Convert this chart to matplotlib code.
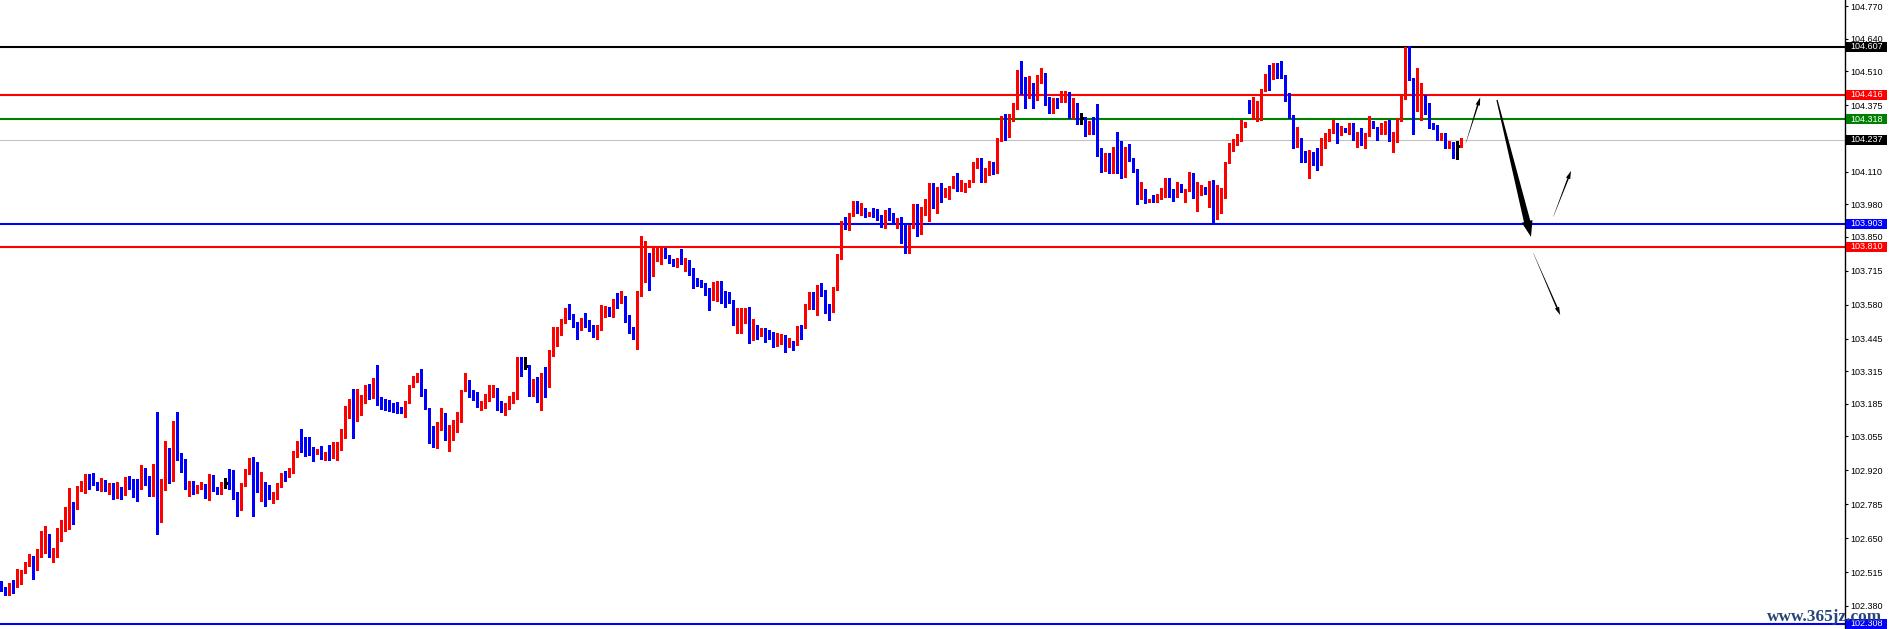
import matplotlib
matplotlib.use('Agg')
import matplotlib.pyplot as plt
import numpy as np
from matplotlib.patches import Polygon, Rectangle
from matplotlib.transforms import IdentityTransform

# candle data (bar index 0..365)
opens = [
    102.447, 102.443, 102.425, 102.475, 102.470, 102.477, 102.516, 102.543, 102.579, 102.526,
    102.596, 102.624, 102.663, 102.584, 102.592, 102.682, 102.696, 102.742, 102.789, 102.767,
    102.839, 102.851, 102.900, 102.888, 102.874, 102.846, 102.866, 102.850, 102.866, 102.834,
    102.847, 102.830, 102.868, 102.868, 102.860, 102.848, 102.896, 102.874, 102.819, 102.916,
    102.773, 102.844, 102.957, 102.915, 103.087, 102.980, 102.961, 102.847, 102.874, 102.834,
    102.859, 102.864, 102.813, 102.890, 102.851, 102.838, 102.869, 102.868, 102.854, 102.810,
    102.774, 102.860, 102.907, 102.929, 102.902, 102.863, 102.871, 102.860, 102.811, 102.822,
    102.858, 102.908, 102.895, 102.912, 102.996, 103.025, 103.017, 103.013, 103.009, 102.990,
    103.002, 102.971, 102.994, 102.990, 103.007, 103.011, 103.065, 103.150, 103.201, 103.118,
    103.144, 103.203, 103.241, 103.214, 103.267, 103.207, 103.174, 103.174, 103.169, 103.166,
    103.158, 103.150, 103.197, 103.254, 103.278, 103.287, 103.245, 103.169, 103.077, 103.020,
    103.110, 103.148, 103.065, 103.068, 103.101, 103.142, 103.237, 103.273, 103.234, 103.229,
    103.166, 103.170, 103.201, 103.237, 103.245, 103.166, 103.158, 103.181, 103.200, 103.214,
    103.352, 103.336, 103.337, 103.236, 103.276, 103.204, 103.296, 103.254, 103.380, 103.443,
    103.463, 103.512, 103.566, 103.539, 103.510, 103.479, 103.523, 103.516, 103.495, 103.463,
    103.479, 103.559, 103.568, 103.546, 103.603, 103.591, 103.612, 103.539, 103.483, 103.466,
    103.625, 103.678, 103.748, 103.698, 103.781, 103.778, 103.802, 103.774, 103.755, 103.741,
    103.767, 103.748, 103.751, 103.708, 103.672, 103.665, 103.655, 103.635, 103.599, 103.632,
    103.648, 103.619, 103.608, 103.599, 103.512, 103.519, 103.523, 103.563, 103.439, 103.495,
    103.463, 103.482, 103.475, 103.453, 103.433, 103.439, 103.459, 103.429, 103.435, 103.420,
    103.493, 103.486, 103.579, 103.619, 103.579, 103.655, 103.635, 103.579, 103.556, 103.643,
    103.765, 103.914, 103.908, 103.937, 103.987, 103.955, 103.964, 103.937, 103.947, 103.944,
    103.937, 103.908, 103.951, 103.927, 103.908, 103.922, 103.869, 103.792, 103.891, 103.973,
    103.881, 103.940, 103.997, 104.017, 103.984, 104.048, 104.015, 104.017, 104.050, 104.084,
    104.037, 104.050, 104.050, 104.074, 104.126, 104.150, 104.074, 104.100, 104.133, 104.106,
    104.234, 104.319, 104.260, 104.332, 104.378, 104.515, 104.456, 104.445, 104.460, 104.405,
    104.465, 104.499, 104.405, 104.349, 104.402, 104.389, 104.412, 104.416, 104.332, 104.385,
    104.325, 104.327, 104.260, 104.309, 104.300, 104.203, 104.146, 104.177, 104.146, 104.187,
    104.183, 104.179, 104.200, 104.161, 104.114, 104.026, 104.037, 103.990, 104.001, 103.993,
    104.010, 104.024, 104.064, 104.037, 104.014, 104.057, 104.033, 104.037, 104.093, 104.040,
    104.044, 104.050, 104.021, 104.033, 103.924, 103.980, 104.004, 104.146, 104.200, 104.220,
    104.234, 104.289, 104.392, 104.360, 104.360, 104.360, 104.436, 104.491, 104.479, 104.539,
    104.505, 104.486, 104.416, 104.332, 104.212, 104.243, 104.173, 104.166, 104.177, 104.161,
    104.154, 104.243, 104.263, 104.267, 104.296, 104.257, 104.283, 104.272, 104.299, 104.234,
    104.240, 104.230, 104.260, 104.307, 104.287, 104.260, 104.263, 104.305, 104.250, 104.254,
    104.316, 104.402, 104.566, 104.482, 104.356, 104.385, 104.405, 104.345, 104.293, 104.287,
    104.236, 104.260, 104.214, 104.227, 104.212, 104.210,
]
highs = [
    102.479, 102.454, 102.473, 102.482, 102.527, 102.523, 102.556, 102.587, 102.579, 102.605,
    102.678, 102.698, 102.666, 102.609, 102.690, 102.722, 102.774, 102.851, 102.795, 102.858,
    102.878, 102.907, 102.907, 102.909, 102.875, 102.888, 102.882, 102.868, 102.868, 102.874,
    102.852, 102.892, 102.898, 102.887, 102.887, 102.941, 102.929, 102.898, 102.945, 103.151,
    102.887, 103.037, 103.008, 103.117, 103.151, 102.988, 102.967, 102.878, 102.876, 102.860,
    102.874, 102.866, 102.904, 102.900, 102.855, 102.874, 102.890, 102.925, 102.921, 102.835,
    102.868, 102.927, 102.969, 102.973, 102.953, 102.913, 102.875, 102.862, 102.835, 102.868,
    102.911, 102.919, 102.928, 102.998, 103.037, 103.085, 103.053, 103.054, 103.013, 103.005,
    103.019, 102.992, 103.020, 103.032, 103.035, 103.084, 103.177, 103.206, 103.245, 103.245,
    103.222, 103.259, 103.263, 103.288, 103.340, 103.211, 103.205, 103.201, 103.187, 103.193,
    103.172, 103.197, 103.261, 103.296, 103.307, 103.324, 103.245, 103.169, 103.097, 103.113,
    103.169, 103.150, 103.099, 103.121, 103.154, 103.241, 103.307, 103.280, 103.241, 103.233,
    103.197, 103.225, 103.261, 103.261, 103.249, 103.197, 103.190, 103.217, 103.232, 103.370,
    103.370, 103.370, 103.340, 103.284, 103.293, 103.309, 103.331, 103.400, 103.490, 103.490,
    103.522, 103.566, 103.583, 103.542, 103.512, 103.526, 103.546, 103.519, 103.498, 103.498,
    103.579, 103.575, 103.572, 103.603, 103.625, 103.635, 103.615, 103.540, 103.493, 103.635,
    103.854, 103.834, 103.787, 103.807, 103.811, 103.807, 103.807, 103.778, 103.761, 103.767,
    103.802, 103.767, 103.758, 103.725, 103.688, 103.678, 103.665, 103.645, 103.669, 103.676,
    103.674, 103.635, 103.632, 103.599, 103.568, 103.566, 103.568, 103.570, 103.523, 103.499,
    103.489, 103.486, 103.479, 103.473, 103.466, 103.463, 103.459, 103.446, 103.437, 103.497,
    103.499, 103.583, 103.632, 103.629, 103.659, 103.665, 103.639, 103.582, 103.652, 103.782,
    103.914, 103.931, 103.947, 103.993, 103.993, 103.984, 103.964, 103.951, 103.964, 103.960,
    103.937, 103.957, 103.964, 103.947, 103.924, 103.928, 103.898, 103.898, 103.980, 103.981,
    103.971, 104.001, 104.066, 104.066, 104.050, 104.064, 104.044, 104.053, 104.093, 104.106,
    104.075, 104.066, 104.077, 104.150, 104.166, 104.166, 104.123, 104.153, 104.147, 104.246,
    104.332, 104.339, 104.339, 104.385, 104.515, 104.551, 104.486, 104.491, 104.465, 104.495,
    104.522, 104.502, 104.409, 104.405, 104.405, 104.432, 104.432, 104.426, 104.402, 104.385,
    104.343, 104.329, 104.312, 104.329, 104.380, 104.203, 104.183, 104.183, 104.210, 104.269,
    104.234, 104.207, 104.219, 104.166, 104.119, 104.068, 104.040, 104.001, 104.017, 104.020,
    104.044, 104.086, 104.083, 104.040, 104.068, 104.061, 104.040, 104.110, 104.106, 104.070,
    104.057, 104.050, 104.074, 104.077, 104.057, 104.044, 104.150, 104.223, 104.239, 104.260,
    104.316, 104.309, 104.396, 104.409, 104.392, 104.438, 104.499, 104.535, 104.542, 104.542,
    104.551, 104.495, 104.425, 104.336, 104.287, 104.243, 104.193, 104.196, 104.187, 104.203,
    104.246, 104.266, 104.280, 104.316, 104.303, 104.292, 104.285, 104.303, 104.303, 104.267,
    104.283, 104.266, 104.332, 104.312, 104.290, 104.303, 104.312, 104.316, 104.270, 104.323,
    104.412, 104.606, 104.612, 104.482, 104.525, 104.462, 104.416, 104.382, 104.303, 104.296,
    104.266, 104.263, 104.232, 104.230, 104.232, 104.243,
]
lows = [
    102.441, 102.425, 102.425, 102.430, 102.457, 102.467, 102.512, 102.540, 102.487, 102.523,
    102.574, 102.589, 102.576, 102.556, 102.576, 102.640, 102.680, 102.688, 102.706, 102.765,
    102.838, 102.831, 102.847, 102.862, 102.842, 102.838, 102.839, 102.826, 102.807, 102.810,
    102.807, 102.823, 102.847, 102.815, 102.799, 102.846, 102.863, 102.818, 102.818, 102.668,
    102.716, 102.842, 102.871, 102.879, 102.961, 102.913, 102.847, 102.819, 102.824, 102.828,
    102.847, 102.811, 102.802, 102.836, 102.826, 102.827, 102.851, 102.846, 102.805, 102.740,
    102.762, 102.858, 102.904, 102.740, 102.835, 102.799, 102.779, 102.805, 102.791, 102.806,
    102.855, 102.879, 102.892, 102.910, 102.975, 102.994, 102.977, 102.980, 102.959, 102.987,
    102.966, 102.962, 102.962, 102.968, 102.962, 103.002, 103.048, 103.128, 103.047, 103.118,
    103.141, 103.190, 103.206, 103.210, 103.181, 103.164, 103.161, 103.158, 103.154, 103.150,
    103.148, 103.133, 103.187, 103.254, 103.274, 103.217, 103.166, 103.031, 103.015, 103.011,
    103.081, 103.041, 102.999, 103.041, 103.073, 103.112, 103.237, 103.214, 103.201, 103.173,
    103.161, 103.170, 103.197, 103.214, 103.161, 103.153, 103.141, 103.165, 103.190, 103.206,
    103.297, 103.323, 103.218, 103.218, 103.194, 103.161, 103.214, 103.254, 103.376, 103.416,
    103.459, 103.506, 103.522, 103.493, 103.443, 103.479, 103.493, 103.477, 103.453, 103.443,
    103.479, 103.532, 103.535, 103.531, 103.568, 103.586, 103.512, 103.466, 103.443, 103.404,
    103.615, 103.670, 103.639, 103.694, 103.754, 103.743, 103.767, 103.745, 103.734, 103.732,
    103.741, 103.716, 103.698, 103.648, 103.656, 103.649, 103.619, 103.559, 103.599, 103.596,
    103.586, 103.570, 103.588, 103.499, 103.466, 103.469, 103.506, 103.426, 103.439, 103.443,
    103.457, 103.430, 103.443, 103.413, 103.416, 103.423, 103.393, 103.410, 103.400, 103.420,
    103.443, 103.486, 103.563, 103.563, 103.539, 103.615, 103.546, 103.519, 103.552, 103.639,
    103.761, 103.880, 103.878, 103.933, 103.947, 103.937, 103.931, 103.935, 103.931, 103.917,
    103.891, 103.887, 103.917, 103.900, 103.884, 103.825, 103.785, 103.785, 103.887, 103.854,
    103.862, 103.938, 103.915, 103.967, 103.947, 103.991, 104.011, 104.000, 104.046, 104.033,
    104.035, 104.031, 104.050, 104.070, 104.123, 104.068, 104.070, 104.097, 104.100, 104.106,
    104.234, 104.236, 104.250, 104.313, 104.360, 104.418, 104.365, 104.402, 104.365, 104.396,
    104.462, 104.376, 104.343, 104.345, 104.365, 104.389, 104.389, 104.325, 104.323, 104.300,
    104.300, 104.254, 104.260, 104.260, 104.174, 104.110, 104.114, 104.103, 104.103, 104.103,
    104.086, 104.087, 104.154, 104.107, 103.981, 104.000, 103.987, 103.990, 103.990, 103.988,
    104.001, 104.010, 104.010, 103.994, 104.010, 104.030, 103.990, 104.034, 104.004, 103.955,
    104.017, 104.021, 103.970, 103.911, 103.920, 103.944, 104.004, 104.146, 104.194, 104.216,
    104.234, 104.287, 104.345, 104.320, 104.312, 104.316, 104.433, 104.436, 104.479, 104.482,
    104.482, 104.393, 104.323, 104.206, 104.207, 104.150, 104.150, 104.086, 104.137, 104.117,
    104.137, 104.206, 104.232, 104.263, 104.226, 104.257, 104.267, 104.260, 104.236, 104.210,
    104.216, 104.206, 104.254, 104.286, 104.236, 104.260, 104.260, 104.232, 104.187, 104.230,
    104.312, 104.400, 104.475, 104.260, 104.352, 104.316, 104.340, 104.285, 104.280, 104.236,
    104.236, 104.203, 104.203, 104.163, 104.159, 104.210,
]
closes = [
    102.441, 102.425, 102.470, 102.470, 102.483, 102.515, 102.551, 102.579, 102.528, 102.603,
    102.627, 102.663, 102.583, 102.595, 102.686, 102.698, 102.746, 102.789, 102.766, 102.846,
    102.855, 102.906, 102.887, 102.875, 102.846, 102.868, 102.850, 102.866, 102.831, 102.848,
    102.831, 102.868, 102.866, 102.863, 102.847, 102.896, 102.871, 102.822, 102.916, 102.767,
    102.844, 102.957, 102.919, 103.087, 102.977, 102.959, 102.847, 102.878, 102.831, 102.860,
    102.867, 102.815, 102.890, 102.840, 102.834, 102.868, 102.869, 102.848, 102.806, 102.771,
    102.864, 102.908, 102.929, 102.899, 102.863, 102.870, 102.858, 102.810, 102.822, 102.862,
    102.908, 102.899, 102.912, 102.997, 103.025, 103.014, 103.009, 103.002, 102.992, 103.001,
    102.975, 102.988, 102.986, 103.008, 103.015, 103.068, 103.148, 103.201, 103.118, 103.144,
    103.205, 103.241, 103.214, 103.271, 103.206, 103.170, 103.170, 103.169, 103.165, 103.153,
    103.150, 103.197, 103.257, 103.278, 103.291, 103.241, 103.166, 103.075, 103.020, 103.113,
    103.148, 103.063, 103.073, 103.104, 103.145, 103.241, 103.273, 103.233, 103.225, 103.173,
    103.174, 103.201, 103.237, 103.245, 103.161, 103.161, 103.185, 103.201, 103.216, 103.356,
    103.333, 103.336, 103.236, 103.280, 103.204, 103.293, 103.260, 103.384, 103.446, 103.466,
    103.512, 103.563, 103.532, 103.495, 103.482, 103.519, 103.510, 103.490, 103.470, 103.483,
    103.562, 103.568, 103.546, 103.599, 103.586, 103.615, 103.536, 103.479, 103.463, 103.632,
    103.682, 103.748, 103.702, 103.785, 103.783, 103.802, 103.771, 103.751, 103.738, 103.767,
    103.748, 103.755, 103.701, 103.669, 103.665, 103.651, 103.632, 103.599, 103.635, 103.648,
    103.615, 103.603, 103.591, 103.512, 103.523, 103.528, 103.563, 103.437, 103.495, 103.463,
    103.475, 103.446, 103.449, 103.433, 103.443, 103.459, 103.429, 103.435, 103.420, 103.493,
    103.486, 103.583, 103.623, 103.579, 103.655, 103.632, 103.579, 103.556, 103.649, 103.765,
    103.914, 103.904, 103.941, 103.984, 103.951, 103.961, 103.944, 103.947, 103.933, 103.935,
    103.908, 103.955, 103.924, 103.908, 103.924, 103.869, 103.792, 103.894, 103.973, 103.881,
    103.940, 104.001, 104.017, 103.991, 104.048, 104.015, 104.021, 104.053, 104.084, 104.035,
    104.053, 104.053, 104.077, 104.128, 104.150, 104.074, 104.101, 104.133, 104.106, 104.236,
    104.316, 104.260, 104.336, 104.380, 104.515, 104.453, 104.445, 104.485, 104.405, 104.465,
    104.499, 104.405, 104.347, 104.400, 104.389, 104.416, 104.416, 104.332, 104.385, 104.320,
    104.325, 104.260, 104.309, 104.294, 104.201, 104.146, 104.179, 104.146, 104.187, 104.180,
    104.177, 104.200, 104.159, 104.110, 104.030, 104.037, 103.993, 104.001, 103.990, 104.017,
    104.026, 104.064, 104.034, 104.010, 104.057, 104.034, 104.037, 104.093, 104.040, 104.046,
    104.050, 104.021, 104.028, 103.924, 103.980, 104.006, 104.150, 104.200, 104.230, 104.239,
    104.296, 104.307, 104.360, 104.366, 104.366, 104.436, 104.495, 104.479, 104.539, 104.502,
    104.482, 104.416, 104.329, 104.210, 104.243, 104.170, 104.166, 104.181, 104.159, 104.154,
    104.243, 104.266, 104.276, 104.294, 104.257, 104.290, 104.270, 104.296, 104.236, 104.243,
    104.226, 104.260, 104.307, 104.290, 104.260, 104.270, 104.303, 104.250, 104.257, 104.316,
    104.402, 104.566, 104.482, 104.356, 104.389, 104.405, 104.345, 104.289, 104.285, 104.236,
    104.260, 104.214, 104.227, 104.207, 104.212, 104.237,
]

# horizontal levels and their price tags
levels = [104.607, 104.416, 104.318, 104.237, 103.903, 103.810, 102.308]
level_colors = ['black', '#ff0000', '#008000', '#c0c0c0', '#0000ff', '#ff0000', '#0000ff']
tag_colors = ['black', '#ff0000', '#008000', 'black', '#0000ff', '#ff0000', '#0000ff']

yticks = [104.770, 104.640, 104.510, 104.375, 104.245, 104.110, 103.980, 103.850, 103.715,
          103.580, 103.445, 103.315, 103.185, 103.055, 102.920, 102.785, 102.650, 102.515, 102.380]

# hand drawn arrows: (start bar, start price), (end bar, end price), size
arrows = [
    ((366.1, 104.223), (369.7, 104.406), 'small'),
    ((373.9, 104.396), (382.4, 103.850), 'big'),
    ((388.0, 103.931), (392.4, 104.113), 'small'),
    ((383.0, 103.785), (389.7, 103.539), 'small'),
]

W, H = 1891, 629
fig = plt.figure(figsize=(W / 100, H / 100), dpi=100, facecolor='white')
ax = fig.add_axes([0, 0, 1845 / W, 1])
ax.set_xlim(-0.33, 460.9)
ax.set_ylim(102.288, 104.794)

o = np.array(opens)
h = np.array(highs)
l = np.array(lows)
c = np.array(closes)
x = np.arange(len(c))

up = c > o
dn = c < o
dj = c == o
cols = np.where(up, '#ff0000', np.where(dn, '#0000ff', 'black'))

for lv, col in zip(levels, level_colors):
    lw = 0.75 if col == '#c0c0c0' else 1.5
    ax.axhline(lv, color=col, lw=lw, zorder=1)

ax.vlines(x, l, h, colors=cols, lw=0.75, antialiased=False, zorder=2)
body = np.maximum(np.abs(c - o), 0.004)
bottom = np.minimum(o, c)
ax.bar(x[up], body[up], bottom=bottom[up], width=0.8, color='#ff0000', lw=0, antialiased=False, zorder=3)
ax.bar(x[dn], body[dn], bottom=bottom[dn], width=0.8, color='#0000ff', lw=0, antialiased=False, zorder=3)
ax.hlines(o[dj], x[dj] - 0.4, x[dj] + 0.4, colors='black', lw=0.75, antialiased=False, zorder=3)

for sp in ['left', 'top', 'bottom']:
    ax.spines[sp].set_visible(False)
ax.spines['right'].set_color('black')
ax.spines['right'].set_linewidth(1)
ax.set_xticks([])
ax.yaxis.tick_right()
ax.set_yticks(yticks)
ax.set_yticklabels([f'{v:.3f}' for v in yticks], fontfamily='Liberation Sans', fontsize=6.5)
ax.tick_params(axis='y', length=2.5, width=0.8, pad=1.5, colors='black')


def tapered_arrow(p0, p1, w0, w1, head_w, head_len):
    a = ax.transData.transform(p0)
    b = ax.transData.transform(p1)
    d = (b - a) / np.hypot(*(b - a))
    n = np.array([-d[1], d[0]])
    base = b - d * head_len
    verts = [a + n * w0 / 2, base + n * w1 / 2, base + n * head_w / 2, b,
             base - n * head_w / 2, base - n * w1 / 2, a - n * w0 / 2]
    fig.add_artist(Polygon(verts, closed=True, fc='black', ec='none',
                           transform=IdentityTransform(), zorder=4))


for p0, p1, kind in arrows:
    if kind == 'big':
        tapered_arrow(p0, p1, 1.2, 6.5, 11, 16)
    else:
        tapered_arrow(p0, p1, 0.2, 1.6, 4.5, 8)

# price tags on the right axis
for lv, col in zip(levels, tag_colors):
    yp = ax.transData.transform((0, lv))[1]
    fig.add_artist(Rectangle((1846, yp - 5), 41, 10, fc=col, ec='none',
                             transform=IdentityTransform(), zorder=5))
    fig.text(1850.5 / W, yp / H, f'{lv:.3f}', color='white', fontsize=6.5,
             fontfamily='Liberation Sans', va='center', ha='left', zorder=6)

fig.text(1767 / W, 8 / H, 'www.365jz.com', color='#27457a', fontsize=12.4,
         fontfamily='Liberation Serif', fontweight='bold', va='baseline', ha='left', zorder=7)

fig.savefig('out.png', dpi=100)
